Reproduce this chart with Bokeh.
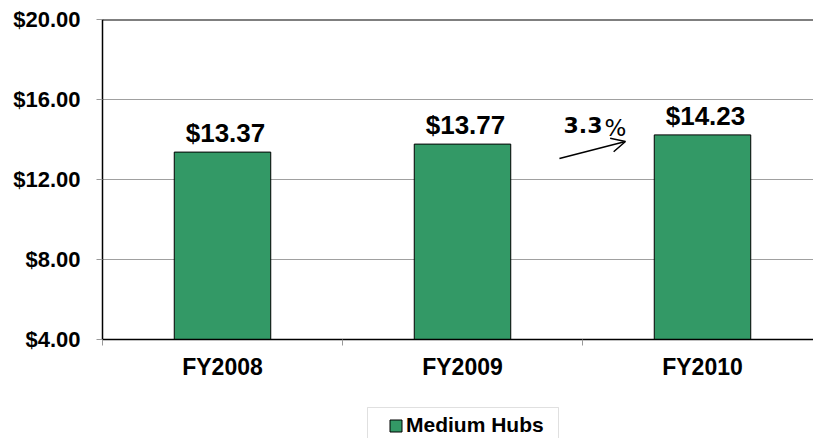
from bokeh.plotting import figure
from bokeh.layouts import column
from bokeh.models import (ColumnDataSource, Range1d, FixedTicker, Legend, LegendItem,
                          Span, Arrow, OpenHead, NumeralTickFormatter, BoxAnnotation)
from bokeh.core.properties import value
from bokeh.embed import file_html
from bokeh.resources import INLINE

categories = ["FY2008", "FY2009", "FY2010"]
values = [13.37, 13.77, 14.23]
value_labels = ["$13.37", "$13.77", "$14.23"]
y_ticks = [4, 8, 12, 16, 20]
series_name = "Medium Hubs"

FONT = "Liberation Sans"
GREEN = "#339966"
VISIBLE = 0.9875  # the plot area runs slightly past the right edge of the image

xs = [i + 0.5 for i in range(len(categories))]
src = ColumnDataSource(dict(x=xs, top=values, label=value_labels, cat=categories))

p = figure(width=813, height=400, output_backend="svg", toolbar_location=None,
           x_range=Range1d(0, len(categories) * VISIBLE), y_range=Range1d(4, 20),
           min_border_left=102, min_border_right=0, min_border_top=19, min_border_bottom=61)
p.outline_line_color = None
p.background_fill_color = "white"

bars = p.vbar(x="x", top="top", bottom=4, width=0.402, source=src,
              fill_color=GREEN, line_color="black", line_width=1)

p.text(x="x", y="top", text="label", source=src, text_font=value(FONT),
       text_font_style="bold", text_font_size="26px", text_align="center",
       text_baseline="bottom", x_offset=3, y_offset=-4, text_color="black")

# growth annotation
pct = (values[2] - values[1]) / values[1] * 100
p.add_layout(Arrow(end=OpenHead(size=14, line_width=1.5, line_color="black"),
                   x_start=xs[1] + 0.404, y_start=values[1] - 0.72,
                   x_end=xs[2] - 0.321, y_end=values[2] - 0.33,
                   line_width=1.5, line_color="black"))
p.text(x=[xs[1] + 0.421], y=[values[1] + 0.98], text=["%.1f" % pct],
       text_font=value("DejaVu Sans"), text_font_style="bold", text_font_size="22px",
       text_align="left", text_baseline="alphabetic", text_color="black")
p.text(x=[xs[1] + 0.592], y=[values[1] + 0.82], text=["%"],
       text_font=value("DejaVu Sans"), text_font_size="23px",
       text_align="left", text_baseline="alphabetic", text_color="black")

# top border line
p.add_layout(Span(location=20, dimension="width", line_color="black", line_width=2))

# y axis
yax = p.yaxis[0]
yax.ticker = FixedTicker(ticks=y_ticks)
yax.formatter = NumeralTickFormatter(format="$0.00")
yax.axis_line_color = "black"
yax.axis_line_width = 1.5
yax.major_tick_out = 6
yax.major_tick_in = 0
yax.major_tick_line_color = "#999999"
yax.minor_tick_line_color = None
yax.major_label_text_font = FONT
yax.major_label_text_font_style = "bold"
yax.major_label_text_font_size = "22px"
yax.major_label_text_color = "black"
yax.major_label_standoff = 16

# x axis
xax = p.xaxis[0]
xax.ticker = FixedTicker(ticks=xs, minor_ticks=list(range(len(categories) + 1)))
xax.major_label_overrides = {x: c for x, c in zip(xs, categories)}
xax.axis_line_color = "black"
xax.axis_line_width = 1.5
xax.major_tick_line_color = None
xax.minor_tick_out = 6
xax.minor_tick_in = 0
xax.minor_tick_line_color = "#999999"
xax.major_label_text_font = FONT
xax.major_label_text_font_style = "bold"
xax.major_label_text_font_size = "23px"
xax.major_label_text_color = "black"
xax.major_label_standoff = 8

p.xgrid.grid_line_color = None
p.ygrid.ticker = FixedTicker(ticks=y_ticks)
p.ygrid.grid_line_color = "#a0a0a0"
p.ygrid.grid_line_width = 1

# legend strip below the chart (frame aligned with the chart's frame)
lg = figure(width=813, height=38, output_backend="svg", toolbar_location=None,
            x_range=Range1d(0, 711), y_range=Range1d(0, 38),
            x_axis_type=None, y_axis_type=None,
            min_border_left=102, min_border_right=0, min_border_top=0, min_border_bottom=0)
lg.outline_line_color = None
lg.xgrid.visible = False
lg.ygrid.visible = False
swatch_src = ColumnDataSource(dict(x=[float("nan")], top=[float("nan")]))
swatch = lg.vbar(x="x", top="top", width=0.4, source=swatch_src,
                 fill_color=GREEN, line_color="black", line_width=1)
lg.add_layout(BoxAnnotation(left=265, right=456, top=31, bottom=-20,
                            fill_color=None, line_color="#999999", line_width=1))
legend = Legend(items=[LegendItem(label=series_name, renderers=[swatch])],
                location=(286, 1), orientation="horizontal",
                glyph_width=15, glyph_height=15, label_standoff=3,
                label_text_font=FONT, label_text_font_style="bold",
                label_text_font_size="21px", label_text_color="black",
                padding=6, margin=0, border_line_color=None,
                background_fill_alpha=0)
lg.add_layout(legend, "center")

layout = column(p, lg, spacing=0)
open("out.html", "w").write(file_html(layout, INLINE))
